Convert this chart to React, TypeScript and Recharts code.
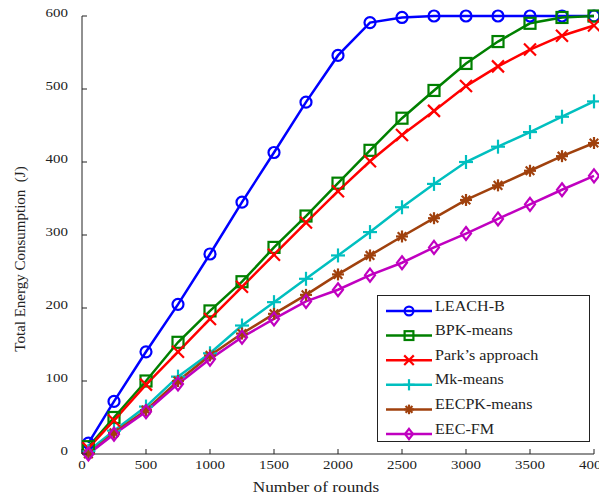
import { Line, LineChart, XAxis, YAxis, Customized } from "recharts";

const rounds = [50, 250, 500, 750, 1000, 1250, 1500, 1750, 2000, 2250, 2500, 2750, 3000, 3250, 3500, 3750, 4000];

const leachB = [15, 72, 140, 205, 274, 345, 413, 482, 546, 591, 598, 600, 600, 600, 600, 600, 600];
const bpkMeans = [10, 50, 100, 153, 196, 236, 283, 326, 371, 416, 460, 498, 535, 565, 590, 598, 600];
const parks = [8, 46, 95, 140, 185, 229, 273, 317, 360, 401, 437, 470, 504, 531, 554, 573, 587];
const mkMeans = [4, 32, 65, 106, 138, 176, 208, 240, 272, 304, 338, 370, 400, 421, 441, 462, 483];
const eecpkMeans = [0, 29, 60, 100, 135, 165, 192, 218, 246, 272, 298, 323, 348, 368, 388, 408, 426];
const eecFm = [0, 27, 58, 96, 130, 160, 185, 209, 225, 245, 262, 283, 302, 322, 342, 362, 381];

const xTicks = [0, 500, 1000, 1500, 2000, 2500, 3000, 3500, 4000];
const yTicks = [0, 100, 200, 300, 400, 500, 600];

const data = rounds.map((r, i) => ({
  r,
  leachB: leachB[i],
  bpkMeans: bpkMeans[i],
  parks: parks[i],
  mkMeans: mkMeans[i],
  eecpkMeans: eecpkMeans[i],
  eecFm: eecFm[i],
}));

type MarkerKind = "circle" | "square" | "cross" | "plus" | "star" | "diamond";

const series: { key: string; name: string; color: string; marker: MarkerKind }[] = [
  { key: "leachB", name: "LEACH-B", color: "#0000FF", marker: "circle" },
  { key: "bpkMeans", name: "BPK-means", color: "#008000", marker: "square" },
  { key: "parks", name: "Park\u2019s approach", color: "#FF0000", marker: "cross" },
  { key: "mkMeans", name: "Mk-means", color: "#00BFBF", marker: "plus" },
  { key: "eecpkMeans", name: "EECPK-means", color: "#A0410D", marker: "star" },
  { key: "eecFm", name: "EEC-FM", color: "#C000C0", marker: "diamond" },
];

const FONT = "Liberation Serif, Times New Roman, serif";
const TICK_LEN = 5;
const STRETCH = 1.15; // the reference text is a bit wider than plain Times

function Marker({ kind, cx, cy, color, s = 1 }: { kind: MarkerKind; cx: number; cy: number; color: string; s?: number }) {
  const sw = 2.2;
  switch (kind) {
    case "circle":
      return <circle cx={cx} cy={cy} r={5.5 * s} fill="none" stroke={color} strokeWidth={sw} />;
    case "square":
      return <rect x={cx - 5.5 * s} y={cy - 5.5 * s} width={11 * s} height={11 * s} fill="none" stroke={color} strokeWidth={sw} />;
    case "cross":
      return (
        <g stroke={color} strokeWidth={sw}>
          <line x1={cx - 6 * s} y1={cy - 6 * s} x2={cx + 6 * s} y2={cy + 6 * s} />
          <line x1={cx - 6 * s} y1={cy + 6 * s} x2={cx + 6 * s} y2={cy - 6 * s} />
        </g>
      );
    case "plus":
      return (
        <g stroke={color} strokeWidth={sw}>
          <line x1={cx - 7 * s} y1={cy} x2={cx + 7 * s} y2={cy} />
          <line x1={cx} y1={cy - 7 * s} x2={cx} y2={cy + 7 * s} />
        </g>
      );
    case "star":
      return (
        <g stroke={color} strokeWidth={sw}>
          <line x1={cx - 6 * s} y1={cy} x2={cx + 6 * s} y2={cy} />
          <line x1={cx} y1={cy - 6 * s} x2={cx} y2={cy + 6 * s} />
          <line x1={cx - 4.3 * s} y1={cy - 4.3 * s} x2={cx + 4.3 * s} y2={cy + 4.3 * s} />
          <line x1={cx - 4.3 * s} y1={cy + 4.3 * s} x2={cx + 4.3 * s} y2={cy - 4.3 * s} />
        </g>
      );
    case "diamond":
      return (
        <polygon
          points={`${cx},${cy - 6.5 * s} ${cx + 5 * s},${cy} ${cx},${cy + 6.5 * s} ${cx - 5 * s},${cy}`}
          fill="none"
          stroke={color}
          strokeWidth={sw}
        />
      );
  }
}

const WideText = ({ x, y, anchor, size, children }: any) => (
  <text
    transform={`translate(${x},${y}) scale(${STRETCH},1)`}
    textAnchor={anchor}
    fontFamily={FONT}
    fontSize={size}
    fill="#222"
  >
    {children}
  </text>
);

const BottomTick = ({ x, y, payload }: any) => (
  <g>
    <line x1={x} y1={y} x2={x} y2={y - TICK_LEN} stroke="#222" strokeWidth={1} />
    <WideText x={x} y={y + 15} anchor="middle" size={13}>
      {payload.value}
    </WideText>
  </g>
);

const LeftTick = ({ x, y, payload }: any) => (
  <g>
    <line x1={x} y1={y} x2={x + TICK_LEN} y2={y} stroke="#222" strokeWidth={1} />
    <WideText x={x - 14} y={y + 1} anchor="end" size={13}>
      {payload.value}
    </WideText>
  </g>
);

const TopTick = ({ x, y }: any) => <line x1={x} y1={y} x2={x} y2={y + TICK_LEN} stroke="#222" strokeWidth={1} />;
const RightTick = ({ x, y }: any) => <line x1={x} y1={y} x2={x - TICK_LEN} y2={y} stroke="#222" strokeWidth={1} />;

const AxisTitles = () => (
  <g>
    <WideText x={316} y={492} anchor="middle" size={15}>
      Number of rounds
    </WideText>
    <text
      transform="translate(25,259) rotate(-90)"
      textAnchor="middle"
      fontFamily={FONT}
      fontSize={15}
      fill="#222"
    >
      {"Total Energy Consumption\u00a0\u00a0(J)"}
    </text>
  </g>
);

const LEG_X = 377;
const LEG_Y = 295;
const LEG_W = 212;
const LEG_H = 146;

const LegendBox = () => (
  <svg
    width={599}
    height={499}
    style={{ position: "absolute", left: 0, top: 0, pointerEvents: "none" }}
  >
    <rect x={LEG_X + 0.5} y={LEG_Y + 0.5} width={LEG_W} height={LEG_H} fill="#fff" stroke="#222" strokeWidth={1} />
    {series.map((s, i) => {
      const ly = LEG_Y + 16 + i * 24.6;
      return (
        <g key={s.key}>
          <line x1={386} y1={ly} x2={432} y2={ly} stroke={s.color} strokeWidth={2.5} />
          <Marker kind={s.marker} cx={409} cy={ly} color={s.color} s={0.8} />
          <WideText x={435} y={ly - 0.5} anchor="start" size={14}>
            {s.name}
          </WideText>
        </g>
      );
    })}
  </svg>
);

export default function App() {
  return (
    <div style={{ position: "absolute", left: 0, top: 0, width: 599, height: 499, background: "#fff" }}>
      <LineChart width={599} height={499} data={data} margin={{ top: 16, right: 5, bottom: 0, left: 0 }}>
        <XAxis
          xAxisId="b"
          dataKey="r"
          type="number"
          domain={[0, 4000]}
          ticks={xTicks}
          interval={0}
          height={45}
          tickSize={0}
          tickMargin={0}
          tick={<BottomTick />}
          axisLine={{ stroke: "#222" }}
          tickLine={false}
        />
        <XAxis
          xAxisId="t"
          orientation="top"
          dataKey="r"
          type="number"
          domain={[0, 4000]}
          ticks={xTicks}
          interval={0}
          height={0}
          tickSize={0}
          tickMargin={0}
          tick={<TopTick />}
          axisLine={{ stroke: "#222" }}
          tickLine={false}
        />
        <YAxis
          yAxisId="l"
          type="number"
          domain={[0, 600]}
          ticks={yTicks}
          interval={0}
          width={82}
          tickSize={0}
          tickMargin={0}
          tick={<LeftTick />}
          axisLine={{ stroke: "#222" }}
          tickLine={false}
        />
        <YAxis
          yAxisId="r"
          orientation="right"
          type="number"
          domain={[0, 600]}
          ticks={yTicks}
          interval={0}
          width={0}
          tickSize={0}
          tickMargin={0}
          tick={<RightTick />}
          axisLine={{ stroke: "#222" }}
          tickLine={false}
        />
        {series.map((s) => (
          <Line
            key={s.key}
            xAxisId="b"
            yAxisId="l"
            dataKey={s.key}
            name={s.name}
            type="linear"
            stroke={s.color}
            strokeWidth={2.5}
            isAnimationActive={false}
            dot={(p: any) => <Marker key={`${s.key}-${p.index}`} kind={s.marker} cx={p.cx} cy={p.cy} color={s.color} />}
            activeDot={false}
          />
        ))}
        <Customized component={AxisTitles} />
      </LineChart>
      <LegendBox />
    </div>
  );
}
